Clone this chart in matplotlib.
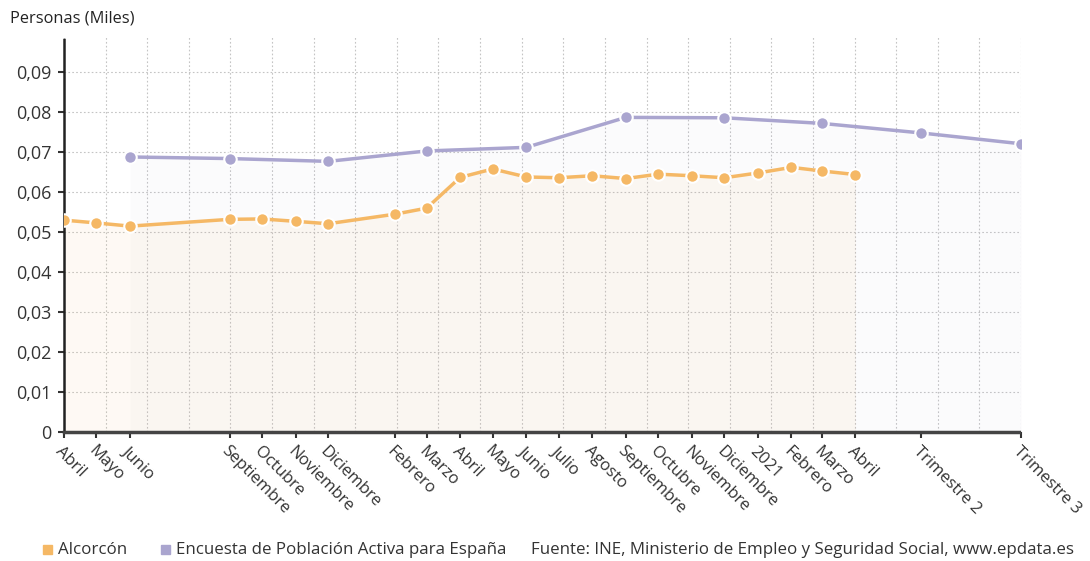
import numpy as np
import pandas as pd
import matplotlib
matplotlib.use('Agg')
import matplotlib.pyplot as plt
import matplotlib.dates as mdates

plt.rcParams['font.family'] = ['Open Sans', 'DejaVu Sans']

# Alcorcon (monthly)
alc_dates = ['2019-04', '2019-05', '2019-06', '2019-09', '2019-10', '2019-11', '2019-12',
             '2020-02', '2020-03', '2020-04', '2020-05', '2020-06', '2020-07', '2020-08',
             '2020-09', '2020-10', '2020-11', '2020-12', '2021-01', '2021-02', '2021-03', '2021-04']
alc_values = [0.0530, 0.0523, 0.0515, 0.0532, 0.0533, 0.0527, 0.0521,
              0.0545, 0.0560, 0.0637, 0.0658, 0.0638, 0.0636, 0.0641,
              0.0634, 0.0645, 0.0641, 0.0636, 0.0648, 0.0662, 0.0653, 0.0644]

# EPA Espana (quarterly)
epa_dates = ['2019-06', '2019-09', '2019-12', '2020-03', '2020-06', '2020-09',
             '2020-12', '2021-03', '2021-06', '2021-09']
epa_values = [0.0688, 0.0684, 0.0677, 0.0703, 0.0712, 0.0787,
              0.0786, 0.0772, 0.0748, 0.0721]

tick_dates = alc_dates + ['2021-06', '2021-09']
tick_labels = ['Abril', 'Mayo', 'Junio', 'Septiembre', 'Octubre', 'Noviembre', 'Diciembre',
               'Febrero', 'Marzo', 'Abril', 'Mayo', 'Junio', 'Julio', 'Agosto',
               'Septiembre', 'Octubre', 'Noviembre', 'Diciembre', '2021', 'Febrero', 'Marzo',
               'Abril', 'Trimestre 2', 'Trimestre 3']

orange = '#f5b865'
purple = '#aaa5cf'

x_alc = pd.to_datetime(alc_dates)
x_epa = pd.to_datetime(epa_dates)
x_ticks = pd.to_datetime(tick_dates)

fig = plt.figure(figsize=(10.9, 5.61), dpi=100)
ax = fig.add_axes([0.0587, 0.2299, 0.8780, 0.7041])

# light area fills under each series
ax.fill_between(x_epa, epa_values, 0, color=purple, alpha=0.045, lw=0, zorder=1)
ax.fill_between(x_alc, alc_values, 0, color=orange, alpha=0.07, lw=0, zorder=1)

ax.plot(x_epa, epa_values, color=purple, lw=2.5, marker='o', ms=9,
        mfc=purple, mec='white', mew=1.5, zorder=4)
ax.plot(x_alc, alc_values, color=orange, lw=2.5, marker='o', ms=9,
        mfc=orange, mec='white', mew=1.5, zorder=4)

x0 = mdates.date2num(x_ticks[0])
x1 = mdates.date2num(x_ticks[-1])
ax.set_xlim(x0, x1)
ax.set_ylim(0, 0.0988)

# gridlines: evenly spaced (one per label), separate from the date ticks
for gx in np.linspace(x0, x1, len(tick_labels)):
    ax.axvline(gx, color='#c4c4c4', lw=0.8, ls=(0, (1.5, 2)), zorder=0)
yt = np.arange(0, 0.091, 0.01)
for gy in yt[1:]:
    ax.axhline(gy, color='#c4c4c4', lw=0.8, ls=(0, (1.5, 2)), zorder=0)

ax.set_yticks(yt)
ax.set_yticklabels(['0'] + [('%.2f' % v).replace('.', ',') for v in yt[1:]],
                   fontsize=13, color='#333333')
ax.set_xticks(x_ticks)
ax.set_xticklabels(tick_labels, rotation=-45, ha='left', va='top',
                   rotation_mode='anchor', fontsize=12, color='#333333')
ax.tick_params(axis='x', length=4, width=1.5, color='#333333', pad=4)
ax.tick_params(axis='y', length=4, width=1.5, color='#333333', pad=5)

for s in ['top', 'right']:
    ax.spines[s].set_visible(False)
ax.spines['left'].set_linestyle((0, (1, 1)))
ax.spines['left'].set_linewidth(1.8)
ax.spines['left'].set_color('#222222')
ax.spines['bottom'].set_linestyle((0, (1, 1)))
ax.spines['bottom'].set_linewidth(2.5)
ax.spines['bottom'].set_color('#444444')

fig.text(0.009, 0.967, 'Personas (Miles)', fontsize=11.8, color='#222222', va='center')

# legend row at bottom
fig.patches.append(plt.Rectangle((0.0395, 0.012), 0.0085, 0.0165, transform=fig.transFigure,
                                 color=orange, figure=fig))
fig.text(0.0535, 0.02, 'Alcorcón', fontsize=12.2, color='#333333', va='center')
fig.patches.append(plt.Rectangle((0.1475, 0.012), 0.0085, 0.0165, transform=fig.transFigure,
                                 color=purple, figure=fig))
fig.text(0.1615, 0.02, 'Encuesta de Población Activa para España', fontsize=12.2,
         color='#333333', va='center')
fig.text(0.487, 0.02, 'Fuente: INE, Ministerio de Empleo y Seguridad Social, www.epdata.es',
         fontsize=12.2, color='#333333', va='center')

fig.savefig('out.png', dpi=100)
